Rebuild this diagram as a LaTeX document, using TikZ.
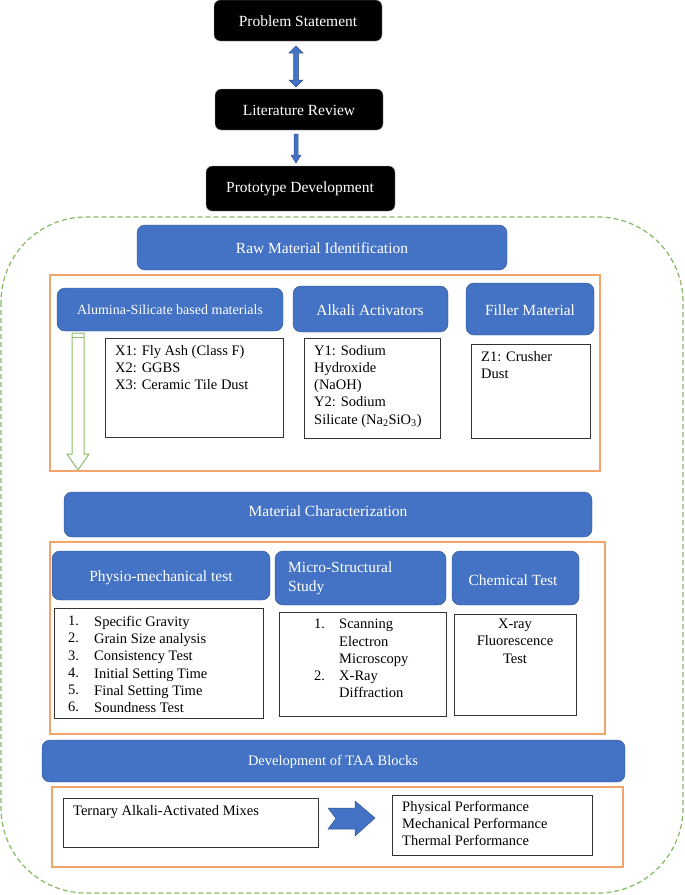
\documentclass[tikz,border=0pt]{standalone}
\usepackage{fontspec}
\setmainfont{Liberation Serif}
\usetikzlibrary{arrows.meta,shapes.arrows}
\definecolor{bl}{HTML}{4472C4}
\definecolor{dbl}{HTML}{2F528F}
\definecolor{org}{HTML}{F4A46A}
\definecolor{grn}{HTML}{70AD47}
\begin{document}
\begin{tikzpicture}[x=1pt,y=-1pt,
  blk/.style={fill=black,draw=gray!60,rounded corners=6pt},
  blu/.style={fill=bl,draw=dbl,rounded corners=8pt},
  hd/.style={text=white,font=\fontsize{15.5}{18}\selectfont},
  wb/.style={draw=black!80,line width=0.8pt},
  ob/.style={draw=org,line width=1.2pt},
  tx/.style={font=\fontsize{14.5}{17.2}\selectfont,align=left,inner sep=0pt},
  ar/.style={draw=dbl,fill=bl}]
\useasboundingbox (0,0) rectangle (685,895);
% top chain
\draw[blk] (214,0) rectangle (382,41); \node[hd] (ps) at (298,21) {Problem Statement};
\draw[blk] (215,89) rectangle (383,130); \node[hd] (lr) at (299,110) {Literature Review};
\draw[blk] (206,166) rectangle (395,211); \node[hd] (pd) at (300,189) {Prototype Development};
\draw[ar,line width=0.5pt] (293.5,53) -- (289,53) -- (296,46) -- (303,53) -- (298.5,53) -- (298.5,80) -- (303,80) -- (296,87) -- (289,80) -- (293.5,80) -- cycle;
\draw[ar,line width=0.5pt] (294,134) -- (298,134) -- (298,155) -- (301,155) -- (296,163) -- (291,155) -- (294,155) -- cycle;
% dashed
\draw[grn!85,dashed,dash pattern=on 5pt off 3pt,line width=1.2pt,rounded corners=85pt] (1,217) rectangle (683,893);
% raw material
\draw[blu] (137,225) rectangle (507,270); \node[hd] (rm) at (322,248) {Raw Material Identification};
\draw[ob] (50,275) rectangle (600,471);
\draw[blu] (57,288) rectangle (283,331); \node[hd,font=\fontsize{14}{16}\selectfont] (al) at (170,310) {Alumina-Silicate based materials};
\draw[blu] (293,286) rectangle (448,332); \node[hd] (aa) at (370,310) {Alkali Activators};
\draw[blu] (466,283) rectangle (594,335); \node[hd] (fm) at (530,310) {Filler Material};
\draw[grn!80,line width=1pt,fill=white] (72,333) -- (84,333) -- (84,454) -- (89,454) -- (78,470) -- (67,454) -- (72,454) -- cycle;
\draw[grn!80,line width=0.8pt] (72,337) -- (84,337);
\draw[wb] (105,338) rectangle (283,437); \node[tx,anchor=north west] (xb) at (115,345) {X1: Fly Ash (Class F)\\X2: GGBS\\X3: Ceramic Tile Dust};
\draw[wb] (304,338) rectangle (440,438); \node[tx,anchor=north west] (yb) at (314,345) {Y1: Sodium\\Hydroxide\\(NaOH)\\Y2: Sodium\\Silicate (Na\textsubscript{2}SiO\textsubscript{3})};
\draw[wb] (471,344) rectangle (590,438); \node[tx,anchor=north west] (zb) at (481,351) {Z1: Crusher\\Dust};
% characterization
\draw[blu] (64,492) rectangle (592,537); \node[hd] (mc) at (328,511) {Material Characterization};
\draw[ob] (50,542) rectangle (605,734);
\draw[blu] (52,551) rectangle (270,600); \node[hd] (pm) at (161,578) {Physio-mechanical test};
\draw[blu] (275,551) rectangle (446,605); \node[tx,text=white,font=\fontsize{15.5}{19}\selectfont,anchor=north west] (ms) at (288,562) {Micro-Structural\\Study};
\draw[blu] (452,551) rectangle (579,605); \node[hd] (ct) at (513,580) {Chemical Test};
\draw[wb] (54,608) rectangle (263,718);
\node[tx,anchor=north west] (l1) at (68,616) {1.\\2.\\3.\\4.\\5.\\6.};
\node[tx,anchor=north west] (l2) at (94,616) {Specific Gravity\\Grain Size analysis\\Consistency Test\\Initial Setting Time\\Final Setting Time\\Soundness Test};
\draw[wb] (279,612) rectangle (446,716);
\node[tx,anchor=north west] (m1) at (314,619) {1.\\\\\\2.};
\node[tx,anchor=north west] (m2) at (339,619) {Scanning\\Electron\\Microscopy\\X-Ray\\Diffraction};
\draw[wb] (454,614) rectangle (576,715);
\node[tx,align=center,anchor=north] (xr) at (515,619) {X-ray\\Fluorescence\\Test};
% development
\draw[blu] (42,740) rectangle (625,782); \node[hd,font=\fontsize{14.5}{17}\selectfont] (dv) at (333,762) {Development of TAA Blocks};
\draw[ob] (52,787) rectangle (623,867);
\draw[wb] (63,798) rectangle (318,847); \node[tx,anchor=north west] (tm) at (73,805) {Ternary Alkali-Activated Mixes};
\draw[wb] (392,795) rectangle (592,855); \node[tx,anchor=north west] (pp) at (402,801) {Physical Performance\\Mechanical Performance\\Thermal Performance};
\draw[ar,line width=0.5pt] (328,808) -- (355,808) -- (355,801) -- (375,818) -- (355,836) -- (355,829) -- (328,829) -- (336,818.5) -- cycle;
\end{tikzpicture}
\end{document}
